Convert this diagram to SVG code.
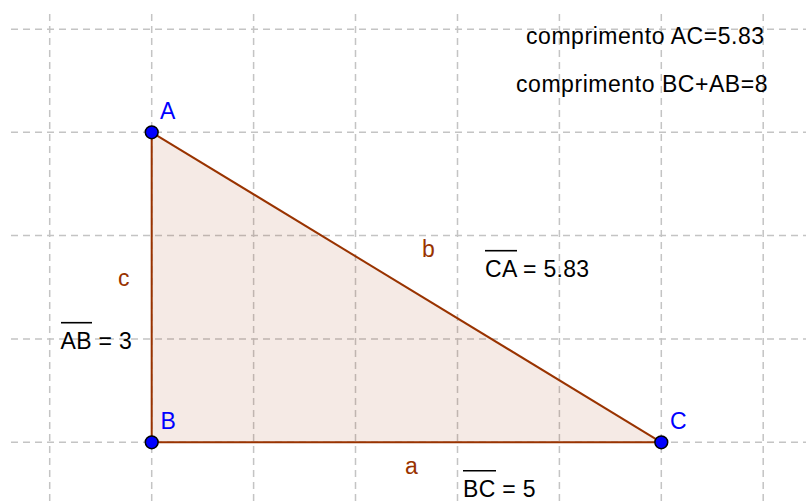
<svg xmlns="http://www.w3.org/2000/svg" width="806" height="501" viewBox="0 0 806 501">
<style>
.grid line{stroke:#c4c4c4;stroke-width:1.5;stroke-dasharray:7,5}
text{font-family:"Liberation Sans",Arial,sans-serif;font-size:23px}
.blk{fill:#000}
.top{letter-spacing:0.55px}
.eq{letter-spacing:0.3px}
.blu{fill:#0000ff}
.brn{fill:#993300}
.ov{stroke:#000;stroke-width:1.6}
.pt{fill:#0000ff;stroke:#000;stroke-width:1.5}
</style>
<rect width="806" height="501" fill="#fff"/>
<g class="grid">
<line x1="11" y1="29.3" x2="806" y2="29.3"/>
<line x1="11" y1="132.3" x2="806" y2="132.3"/>
<line x1="11" y1="235.6" x2="806" y2="235.6"/>
<line x1="11" y1="339" x2="806" y2="339"/>
<line x1="11" y1="442.3" x2="806" y2="442.3"/>
<line x1="49.7" y1="14" x2="49.7" y2="501"/>
<line x1="151.7" y1="14" x2="151.7" y2="501"/>
<line x1="253.6" y1="14" x2="253.6" y2="501"/>
<line x1="355.5" y1="14" x2="355.5" y2="501"/>
<line x1="457.5" y1="14" x2="457.5" y2="501"/>
<line x1="559.4" y1="14" x2="559.4" y2="501"/>
<line x1="661.3" y1="14" x2="661.3" y2="501"/>
<line x1="763.2" y1="14" x2="763.2" y2="501"/>
</g>
<g id="triangle">
<polygon points="151.7,132.3 151.7,442.3 661.3,442.3" fill="#993300" fill-opacity="0.1" stroke="none"/>
</g>
<g id="connectors" stroke="#993300" stroke-width="2" fill="none">
<line id="seg-c" x1="151.7" y1="132.3" x2="151.7" y2="442.3"/>
<line id="seg-a" x1="151.7" y1="442.3" x2="661.3" y2="442.3"/>
<line id="seg-b" x1="661.3" y1="442.3" x2="151.7" y2="132.3"/>
</g>
<g id="labels-sides">
<text class="brn" x="118" y="286">c</text>
<text class="brn" x="422" y="257">b</text>
<text class="brn" x="405" y="474">a</text>
<g id="len-AB"><line class="ov" x1="61" y1="322.7" x2="92" y2="322.7"/><text class="blk eq" x="60.5" y="349">AB = 3</text></g>
<g id="len-CA"><line class="ov" x1="485" y1="250.7" x2="517" y2="250.7"/><text class="blk eq" x="485" y="276.7">CA = 5.83</text></g>
<g id="len-BC"><line class="ov" x1="463" y1="470.7" x2="496" y2="470.7"/><text class="blk eq" x="463" y="496.5">BC = 5</text></g>
</g>
<g id="texts">
<text class="blk top" x="526" y="43.5">comprimento AC=5.83</text>
<text class="blk top" x="516" y="92">comprimento BC+AB=8</text>
</g>
<g id="A"><circle class="pt" cx="151.7" cy="132.3" r="6.4"/><text class="blu" x="160" y="119">A</text></g>
<g id="B"><circle class="pt" cx="151.7" cy="442.3" r="6.4"/><text class="blu" x="160.5" y="429">B</text></g>
<g id="C"><circle class="pt" cx="661.3" cy="442.3" r="6.4"/><text class="blu" x="670" y="428.5">C</text></g>
</svg>
